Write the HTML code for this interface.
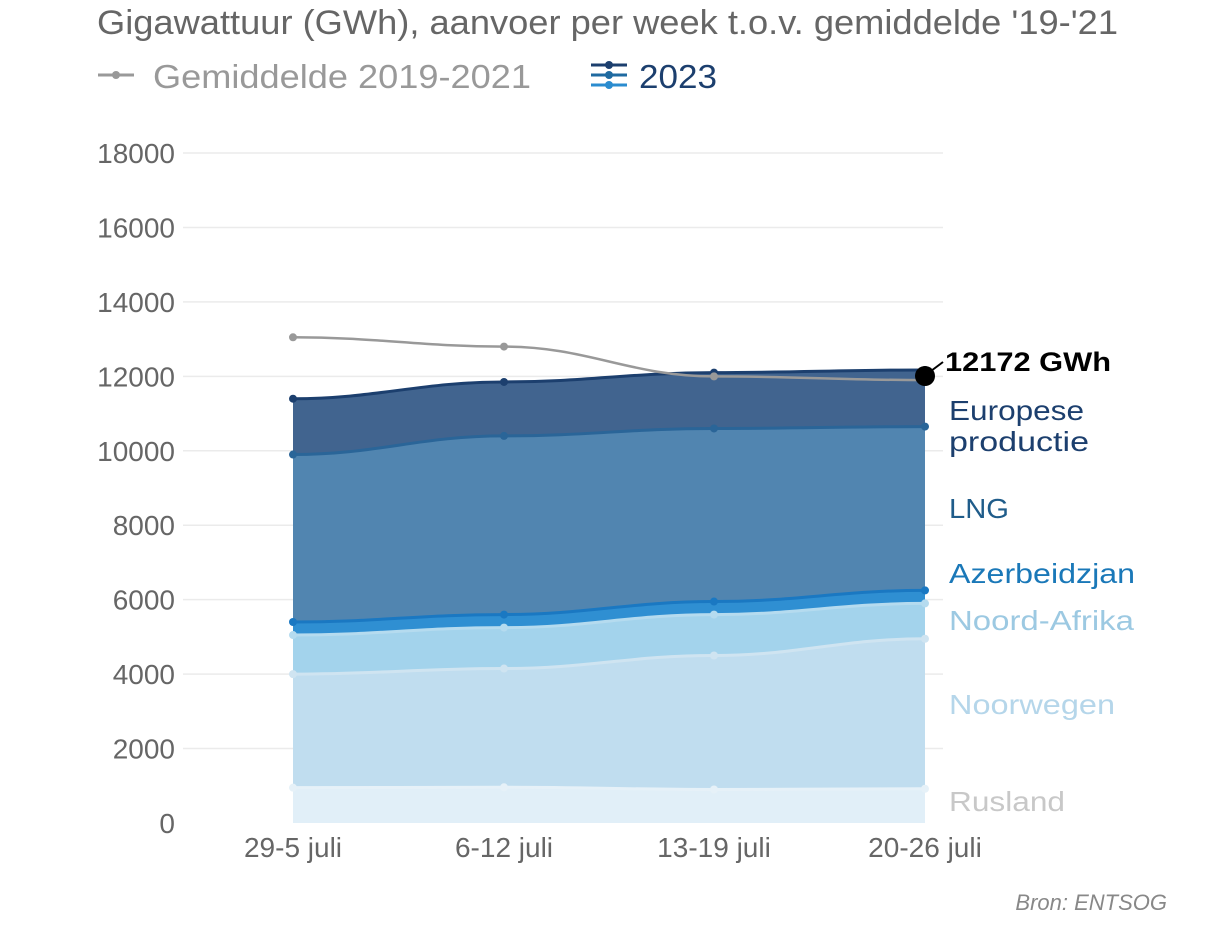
<!DOCTYPE html>
<html><head><meta charset="utf-8"><style>
body{margin:0;background:#fff;width:1229px;height:940px;overflow:hidden;font-family:"Liberation Sans",sans-serif}
</style></head><body>
<svg id="s" width="1229" height="940" xmlns="http://www.w3.org/2000/svg" font-family="Liberation Sans, sans-serif">
<text x="97" y="34" font-size="34" fill="#666" textLength="1021" lengthAdjust="spacingAndGlyphs">Gigawattuur (GWh), aanvoer per week t.o.v. gemiddelde '19-'21</text>
<line x1="98" y1="75" x2="134" y2="75" stroke="#999" stroke-width="3"/><circle cx="116" cy="75" r="4" fill="#999"/>
<text x="153" y="88" font-size="33" fill="#999" textLength="378" lengthAdjust="spacingAndGlyphs">Gemiddelde 2019-2021</text>
<line x1="591" y1="65" x2="627" y2="65" stroke="#1c3f6e" stroke-width="3"/><circle cx="609" cy="65" r="4" fill="#1c3f6e"/>
<line x1="591" y1="75" x2="627" y2="75" stroke="#1f6aa0" stroke-width="3"/><circle cx="609" cy="75" r="4" fill="#1f6aa0"/>
<line x1="591" y1="85" x2="627" y2="85" stroke="#2b8ccf" stroke-width="3"/><circle cx="609" cy="85" r="4" fill="#2b8ccf"/>
<text x="639" y="88" font-size="33" fill="#1c3f6e" textLength="78" lengthAdjust="spacingAndGlyphs">2023</text>
<g id="grid"></g><g id="areas"></g>
<g font-size="28" fill="#666" text-anchor="middle">
<text x="293" y="857">29-5 juli</text><text x="504" y="857">6-12 juli</text><text x="714" y="857">13-19 juli</text><text x="925" y="857">20-26 juli</text></g>
<circle cx="925" cy="376" r="10" fill="#000"/><line x1="931" y1="371" x2="943" y2="362" stroke="#000" stroke-width="2"/>
<text x="945" y="371" font-size="27" font-weight="bold" fill="#000" textLength="166" lengthAdjust="spacingAndGlyphs">12172 GWh</text>
<g font-size="28">
<text x="949" y="420" fill="#1c3f6e" textLength="135" lengthAdjust="spacingAndGlyphs">Europese</text><text x="949" y="451" fill="#1c3f6e" textLength="140" lengthAdjust="spacingAndGlyphs">productie</text>
<text x="949" y="518" fill="#1f5c8a" textLength="60" lengthAdjust="spacingAndGlyphs">LNG</text>
<text x="949" y="583" fill="#1a78b8" textLength="186" lengthAdjust="spacingAndGlyphs">Azerbeidzjan</text>
<text x="949" y="630" fill="#9cc9e2" textLength="185" lengthAdjust="spacingAndGlyphs">Noord-Afrika</text>
<text x="949" y="714" fill="#b5d6ea" textLength="166" lengthAdjust="spacingAndGlyphs">Noorwegen</text>
<text x="949" y="811" fill="#c8c8c8" textLength="116" lengthAdjust="spacingAndGlyphs">Rusland</text></g>
<text x="1167" y="910" font-size="22" font-style="italic" fill="#888" text-anchor="end">Bron: ENTSOG</text>
</svg>
<script>
const xs=[293,504,714,925],Y=v=>823-v*0.03722,ns="http://www.w3.org/2000/svg";
function el(t,a,p){const e=document.createElementNS(ns,t);for(const k in a)e.setAttribute(k,a[k]);document.getElementById(p).appendChild(e);return e}
for(let v=0;v<=18000;v+=2000){const y=Y(v);if(v>0)el('line',{x1:183,x2:943,y1:y,y2:y,stroke:'#ebebeb','stroke-width':1.5},'grid');
const t=el('text',{x:175,y:y+10,'font-size':28,fill:'#666','text-anchor':'end'},'grid');t.textContent=v;}
function curve(vs){let d='M'+xs[0]+','+Y(vs[0]);for(let i=1;i<4;i++){const dx=(xs[i]-xs[i-1])/2.5;d+=` C${xs[i-1]+dx},${Y(vs[i-1])} ${xs[i]-dx},${Y(vs[i])} ${xs[i]},${Y(vs[i])}`}return d}
const L=[[[11400,11850,12100,12172],'#41648f','#1c3f6e'],[[9900,10400,10600,10650],'#5185b0','#2a6598'],[[5400,5600,5950,6250],'#2f8fd2','#1a78c2'],[[5050,5250,5600,5900],'#a3d3ec','#b5dbef'],[[4000,4150,4500,4950],'#c0ddef','#cfe4f1'],[[950,960,900,920],'#e1eff8','#e6f1f8']];
L.forEach(([vs,f,s])=>{el('path',{d:curve(vs)+` L925,823 L293,823 Z`,fill:f},'areas');el('path',{d:curve(vs),fill:'none',stroke:s,'stroke-width':3},'areas');vs.forEach((v,i)=>el('circle',{cx:xs[i],cy:Y(v),r:4,fill:s},'areas'))});
const g=[13050,12800,12000,11900];el('path',{d:curve(g),fill:'none',stroke:'#999','stroke-width':2.5},'areas');g.forEach((v,i)=>el('circle',{cx:xs[i],cy:Y(v),r:4,fill:'#999'},'areas'));
</script>
</body></html>
